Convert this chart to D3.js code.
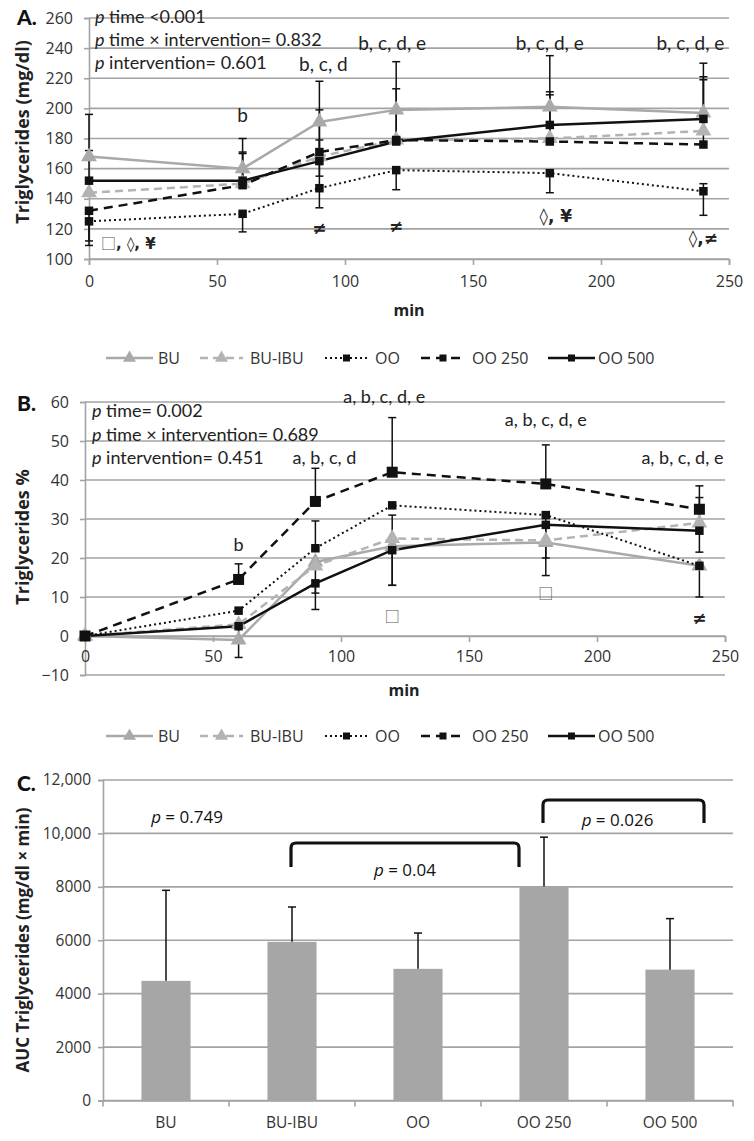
<!DOCTYPE html>
<html><head><meta charset="utf-8">
<script src="https://cdn.jsdelivr.net/npm/d3@7"></script>
<style>
body{margin:0;background:#fff;}
svg{display:block;}
</style></head>
<body><svg id="c" width="754" height="1141"></svg>
<script>
// ---------- DATA ----------
const times = [0, 60, 90, 120, 180, 240];
const seriesNames = ["BU", "BU-IBU", "OO", "OO 250", "OO 500"];
const xTicks = [0, 50, 100, 150, 200, 250];

// Panel A: triglycerides (mg/dl)
const aBU     = [168, 160, 191, 199, 201, 197];
const aBUIBU  = [144, 150, 168, 179, 180, 185];
const aOO     = [125, 130, 147, 159, 157, 145];
const aOO250  = [132, 149, 171, 179, 178, 176];
const aOO500  = [152, 152, 165, 178, 189, 193];
const aErrPlusBU     = [4, 0, 0, 0, 0, 0];
const aErrPlusBUIBU  = [0, 21, 0, 0, 29, 34];
const aErrPlusOO     = [0, 0, 32, 0, 0, 5];
const aErrPlusOO250  = [0, 21, 47, 34, 33, 45];
const aErrPlusOO500  = [44, 28, 34, 53, 46, 37];
const aErrMinusOO    = [13, 12, 13, 13, 13, 16];
const aErrMinusOO250 = [23, 0, 0, 0, 0, 0];
const aErrMinusOO500 = [0, 0, 10, 0, 0, 0];
const aYTicks = [100, 120, 140, 160, 180, 200, 220, 240, 260];
const aStats = ["time <0.001", "time \u00d7 intervention= 0.832", "intervention= 0.601"];
const aLetters = ["b", "b, c, d", "b, c, d, e", "b, c, d, e", "b, c, d, e"];
const aLetterTimes = [60, 90, 120, 180, 240];
const aSymbols = ["\u25a1", ", \u25ca, \u00a5", "\u2260", "\u2260", "\u25ca, \u00a5", "\u25ca,\u2260"];

// Panel B: triglycerides %
const bBU     = [0, -1, 19, 23, 24, 18];
const bBUIBU  = [0, 3, 18, 25, 24.5, 29];
const bOO     = [0, 6.5, 22.5, 33.5, 31, 18];
const bOO250  = [0, 14.5, 34.5, 42, 39, 32.5];
const bOO500  = [0, 2.5, 13.5, 22, 28.5, 27];
const bErrPlusOO     = [0, 0, 7, 0, 0, 0];
const bErrPlusOO250  = [0, 4, 8.5, 14, 10, 6];
const bErrPlusOO500  = [0, 0, 0, 9, 0, 8.5];
const bErrMinusBU    = [0, 0, 0, 10, 0, 0];
const bErrMinusBUIBU = [0, 0, 7, 0, 0, 0];
const bErrMinusOO    = [0, 0, 0, 0, 11, 8];
const bErrMinusOO500 = [0, 8, 6.7, 9, 13, 5.5];
const bYTicks = [-10, 0, 10, 20, 30, 40, 50, 60];
const bStats = ["time= 0.002", "time \u00d7 intervention= 0.689", "intervention= 0.451"];
const bLetters = ["b", "a, b, c, d", "a, b, c, d, e", "a, b, c, d, e", "a, b, c, d, e"];
const bLetterTimes = [60, 90, 120, 180, 240];
const bSymbols = ["\u25a1", "\u25a1", "\u2260"];

// Panel C: AUC
const cCategories = ["BU", "BU-IBU", "OO", "OO 250", "OO 500"];
const cValues = [4480, 5940, 4930, 8010, 4900];
const cErrPlus = [3390, 1305, 1340, 1850, 1910];
const cYTicks = [0, 2000, 4000, 6000, 8000, 10000, 12000];
const cYTickLabels = ["0", "2000", "4000", "6000", "8000", "10,000", "12,000"];
const cBrackets = [
  {from: "BU-IBU", to: "OO 250", p: "0.04"},
  {from: "OO 250", to: "OO 500", p: "0.026"}
];
const cOverallP = "0.749";

// ---------- DRAWING ----------
const svg = d3.select("#c");
const GRID = "#a3a3a3";
const FONT = "Lato, 'Open Sans', sans-serif";
const TITLE = "'Open Sans', sans-serif";
const NARROW = "'Liberation Sans Narrow', 'Open Sans', sans-serif";
const SQFONT = "'Noto Sans CJK SC', 'DejaVu Sans', sans-serif";

const styles = {
  "BU":     {stroke: "#a9a9a9", dash: null,   width: 2.5, marker: "tri",  fill: "#a9a9a9"},
  "BU-IBU": {stroke: "#b3b3b3", dash: "8,5",  width: 2.5, marker: "tri",  fill: "#b3b3b3"},
  "OO":     {stroke: "#111",    dash: "2,3",  width: 2,   marker: "sq",   fill: "#111"},
  "OO 250": {stroke: "#111",    dash: "9,6",  width: 2.5, marker: "sq",   fill: "#111"},
  "OO 500": {stroke: "#111",    dash: null,   width: 2.5, marker: "sq",   fill: "#111"}
};

function drawMarker(g, type, cx, cy, size, fill) {
  if (type === "sq") {
    g.append("rect").attr("x", cx - size/2).attr("y", cy - size/2)
      .attr("width", size).attr("height", size).attr("fill", fill);
  } else {
    const sym = d3.symbol().type(d3.symbolTriangle).size(size*size*0.9);
    g.append("path").attr("d", sym()).attr("transform", `translate(${cx},${cy})`).attr("fill", fill);
  }
}

function linePanel(cfg) {
  const g = svg.append("g");
  const x = d3.scaleLinear().domain([0, 250]).range(cfg.xRange);
  const y = d3.scaleLinear().domain(cfg.yDomain).range(cfg.yRange);
  g.selectAll(null).data(cfg.yTicks).enter().append("line")
    .attr("x1", x(0)).attr("x2", x(250)).attr("y1", d => y(d)).attr("y2", d => y(d))
    .attr("stroke", GRID).attr("stroke-width", 1.6);
  const ya = g.append("g").attr("transform", `translate(${x(0)},0)`)
    .call(d3.axisLeft(y).tickValues(cfg.yTicks).tickSize(5).tickPadding(11));
  ya.select(".domain").attr("stroke", GRID).attr("stroke-width", 1.6);
  ya.selectAll(".tick line").attr("stroke", GRID).attr("stroke-width", 1.6);
  ya.selectAll("text").attr("font-family", NARROW).attr("font-size", 16).attr("fill", "#333");
  const xa = g.append("g").attr("transform", `translate(0,${y(cfg.xAxisAt)})`)
    .call(d3.axisBottom(x).tickValues(xTicks).tickSize(6).tickPadding(cfg.xPad));
  xa.select(".domain").attr("stroke", GRID).attr("stroke-width", 1.6);
  xa.selectAll(".tick line").attr("stroke", GRID).attr("stroke-width", 1.6);
  xa.selectAll("text").attr("font-family", NARROW).attr("font-size", 16).attr("fill", "#333");
  cfg.series.forEach(s => {
    const st = styles[s.name];
    const pts = times.map((t, i) => [x(t), y(s.values[i])]);
    g.append("path").attr("d", d3.line()(pts)).attr("fill", "none")
      .attr("stroke", st.stroke).attr("stroke-width", st.width)
      .attr("stroke-dasharray", st.dash);
  });
  cfg.series.forEach(s => {
    times.forEach((t, i) => {
      const v = s.values[i];
      const p = s.plus ? s.plus[i] : 0, m = s.minus ? s.minus[i] : 0;
      const cx = x(t);
      [[p, 1], [m, -1]].forEach(([e, sgn]) => {
        if (e > 0) {
          g.append("line").attr("x1", cx).attr("x2", cx).attr("y1", y(v)).attr("y2", y(v + sgn * e))
            .attr("stroke", "#111").attr("stroke-width", 1.5);
          g.append("line").attr("x1", cx - 4).attr("x2", cx + 4).attr("y1", y(v + sgn * e)).attr("y2", y(v + sgn * e))
            .attr("stroke", "#111").attr("stroke-width", 1.5);
        }
      });
    });
  });
  cfg.series.forEach(s => {
    const st = styles[s.name];
    times.forEach((t, i) => {
      const size = st.marker === "tri" ? 11 : (cfg.bigSq && s.name === "OO 250" ? 11 : 8.5);
      drawMarker(g, st.marker, x(t), y(s.values[i]), size, st.fill);
    });
  });
  g.append("text").attr("x", 17).attr("y", cfg.labelY).text(cfg.label)
    .attr("font-family", FONT).attr("font-weight", 900).attr("font-size", 21).attr("fill", "#111");
  g.append("text").attr("transform", `translate(${cfg.yTitleX},${cfg.yTitleY}) rotate(-90)`)
    .attr("text-anchor", "middle").text(cfg.yTitle)
    .attr("font-family", TITLE).attr("font-weight", 700).attr("font-size", cfg.yTitleSize).attr("fill", "#222");
  g.append("text").attr("x", cfg.minX).attr("y", cfg.minY).attr("text-anchor", "middle").text("min")
    .attr("font-family", NARROW).attr("font-weight", 700).attr("font-size", 16).attr("fill", "#222");
  cfg.stats.forEach((s, i) => {
    const t = g.append("text").attr("x", cfg.statX).attr("y", cfg.statY[i])
      .attr("font-family", FONT).attr("font-size", 18).attr("fill", "#222");
    t.append("tspan").attr("font-style", "italic").text("p");
    t.append("tspan").text(" " + s);
  });
  cfg.letters.forEach(l => {
    g.append("text").attr("x", x(l.t) + (l.dx || 0)).attr("y", l.y).attr("text-anchor", l.anchor || "middle")
      .text(l.text).attr("font-family", FONT).attr("font-size", cfg.letterSize).attr("fill", "#222");
  });
  return {g, x, y};
}

function legend(yc) {
  const items = [
    {x1: 106, x2: 153, tx: 158},
    {x1: 200, x2: 243, tx: 250},
    {x1: 325, x2: 368, tx: 375},
    {x1: 421, x2: 465, tx: 472},
    {x1: 548, x2: 595, tx: 598}
  ];
  const g = svg.append("g");
  items.forEach((it, i) => {
    const st = styles[seriesNames[i]];
    g.append("line").attr("x1", it.x1).attr("x2", it.x2).attr("y1", yc).attr("y2", yc)
      .attr("stroke", st.stroke).attr("stroke-width", st.width).attr("stroke-dasharray", st.dash);
    drawMarker(g, st.marker, (it.x1 + it.x2) / 2, yc, st.marker === "tri" ? 9 : 7, st.fill);
    g.append("text").attr("x", it.tx).attr("y", yc + 6).text(seriesNames[i])
      .attr("font-family", NARROW).attr("font-size", 16).attr("fill", "#333");
  });
}

function sym(g, x, y, text, opts) {
  opts = opts || {};
  return g.append("text").attr("x", x).attr("y", y).attr("text-anchor", opts.anchor || "middle")
    .text(text).attr("font-family", opts.font || "'DejaVu Sans', sans-serif")
    .attr("font-weight", opts.bold ? 700 : 400).attr("font-size", opts.size || 16)
    .attr("fill", opts.fill || "#222");
}

// Panel A
const A = linePanel({
  xRange: [89, 729], yDomain: [100, 260], yRange: [259, 18], yTicks: aYTicks, xAxisAt: 100, xPad: 11,
  series: [
    {name: "BU", values: aBU, plus: aErrPlusBU},
    {name: "BU-IBU", values: aBUIBU, plus: aErrPlusBUIBU},
    {name: "OO", values: aOO, plus: aErrPlusOO, minus: aErrMinusOO},
    {name: "OO 250", values: aOO250, plus: aErrPlusOO250, minus: aErrMinusOO250},
    {name: "OO 500", values: aOO500, plus: aErrPlusOO500, minus: aErrMinusOO500}
  ],
  label: "A.", labelY: 25, yTitle: "Triglycerides (mg/dl)", yTitleX: 29, yTitleY: 132, yTitleSize: 18,
  minX: 409, minY: 316,
  stats: aStats, statX: 95, statY: [23, 46, 69], letterSize: 19,
  letters: [
    {t: aLetterTimes[0], text: aLetters[0], y: 122},
    {t: aLetterTimes[1], text: aLetters[1], y: 71, dx: 4},
    {t: aLetterTimes[2], text: aLetters[2], y: 50, dx: -4},
    {t: aLetterTimes[3], text: aLetters[3], y: 50},
    {t: aLetterTimes[4], text: aLetters[4], y: 50, anchor: "end", dx: 21}
  ]
});
(function () {
  const g = A.g, x = A.x;
  const t = g.append("text").attr("x", 101).attr("y", 249).attr("font-family", "'DejaVu Sans', sans-serif")
    .attr("font-weight", 700).attr("font-size", 15).attr("fill", "#222");
  t.append("tspan").attr("font-family", SQFONT).attr("font-weight", 400).attr("fill", "#555").text(aSymbols[0]);
  t.append("tspan").text(aSymbols[1]);
  sym(g, x(90), 234, aSymbols[2], {bold: true, size: 17});
  sym(g, x(120), 232, aSymbols[3], {bold: true, size: 17});
  sym(g, x(180) + 6, 222, aSymbols[4], {bold: true, size: 17});
  sym(g, x(240), 244, aSymbols[5], {bold: true, size: 17});
})();
legend(358);

// Panel B
const B = linePanel({
  xRange: [85, 725], yDomain: [-10, 60], yRange: [675, 402], yTicks: bYTicks, xAxisAt: 0, xPad: 9, bigSq: true,
  series: [
    {name: "BU", values: bBU, minus: bErrMinusBU},
    {name: "BU-IBU", values: bBUIBU, minus: bErrMinusBUIBU},
    {name: "OO", values: bOO, plus: bErrPlusOO, minus: bErrMinusOO},
    {name: "OO 250", values: bOO250, plus: bErrPlusOO250},
    {name: "OO 500", values: bOO500, plus: bErrPlusOO500, minus: bErrMinusOO500}
  ],
  label: "B.", labelY: 411, yTitle: "Triglycerides %", yTitleX: 29, yTitleY: 537, yTitleSize: 18,
  minX: 404, minY: 696,
  stats: bStats, statX: 92, statY: [417, 441, 464], letterSize: 18,
  letters: [
    {t: bLetterTimes[0], text: bLetters[0], y: 551},
    {t: bLetterTimes[1], text: bLetters[1], y: 464, dx: 9},
    {t: bLetterTimes[2], text: bLetters[2], y: 403, dx: -8},
    {t: bLetterTimes[3], text: bLetters[3], y: 426},
    {t: bLetterTimes[4], text: bLetters[4], y: 464, anchor: "end", dx: 24}
  ]
});
sym(B.g, B.x(120), 622, bSymbols[0], {font: SQFONT, size: 15, fill: "#555"});
sym(B.g, B.x(180), 599, bSymbols[1], {font: SQFONT, size: 15, fill: "#555"});
sym(B.g, B.x(240), 624, bSymbols[2], {bold: true, size: 17});
legend(736);

// Panel C
(function () {
  const g = svg.append("g");
  const x = d3.scaleBand().domain(cCategories).range([103, 733]).paddingInner(0.61).paddingOuter(0.305);
  const y = d3.scaleLinear().domain([0, 12000]).range([1100.5, 780]);
  g.selectAll(null).data(cYTicks).enter().append("line")
    .attr("x1", 103).attr("x2", 733).attr("y1", d => y(d)).attr("y2", d => y(d))
    .attr("stroke", GRID).attr("stroke-width", 1.6);
  const ya = g.append("g").attr("transform", "translate(103,0)")
    .call(d3.axisLeft(y).tickValues(cYTicks).tickFormat((d, i) => cYTickLabels[i]).tickSize(5).tickPadding(7));
  ya.select(".domain").attr("stroke", GRID).attr("stroke-width", 1.6);
  ya.selectAll(".tick line").attr("stroke", GRID).attr("stroke-width", 1.6);
  ya.selectAll("text").attr("font-family", NARROW).attr("font-size", 15.5).attr("fill", "#333");
  const xa = g.append("g").attr("transform", `translate(0,${y(0)})`)
    .call(d3.axisBottom(x).tickSize(0).tickPadding(16));
  xa.select(".domain").attr("stroke", GRID).attr("stroke-width", 1.6);
  xa.selectAll("text").attr("font-family", NARROW).attr("font-size", 15.5).attr("fill", "#333");
  const bounds = d3.range(cCategories.length + 1).map(i => 103 + i * x.step());
  g.selectAll(null).data(bounds).enter().append("line")
    .attr("x1", d => d).attr("x2", d => d).attr("y1", y(0)).attr("y2", y(0) + 6)
    .attr("stroke", GRID).attr("stroke-width", 1.6);
  g.selectAll(null).data(cValues).enter().append("rect")
    .attr("x", (d, i) => x(cCategories[i])).attr("width", x.bandwidth())
    .attr("y", d => y(d)).attr("height", d => y(0) - y(d)).attr("fill", "#a6a6a6");
  cValues.forEach((v, i) => {
    const cx = x(cCategories[i]) + x.bandwidth() / 2;
    g.append("line").attr("x1", cx).attr("x2", cx).attr("y1", y(v)).attr("y2", y(v + cErrPlus[i]))
      .attr("stroke", "#111").attr("stroke-width", 1.5);
    g.append("line").attr("x1", cx - 4).attr("x2", cx + 4).attr("y1", y(v + cErrPlus[i])).attr("y2", y(v + cErrPlus[i]))
      .attr("stroke", "#111").attr("stroke-width", 1.5);
  });
  const br = [
    {x1: 291, x2: 519, top: 843, bot: 867, ty: 876, dx: 0},
    {x1: 543, x2: 704, top: 800, bot: 823, ty: 826, dx: -6}
  ];
  cBrackets.forEach((b, i) => {
    const p = br[i], r = 5;
    g.append("path").attr("d",
      `M${p.x1},${p.bot} L${p.x1},${p.top + r} Q${p.x1},${p.top} ${p.x1 + r},${p.top} L${p.x2 - r},${p.top} Q${p.x2},${p.top} ${p.x2},${p.top + r} L${p.x2},${p.bot}`)
      .attr("fill", "none").attr("stroke", "#111").attr("stroke-width", 3.2);
    const t = g.append("text").attr("x", (p.x1 + p.x2) / 2 + p.dx).attr("y", p.ty)
      .attr("text-anchor", "middle").attr("font-family", NARROW).attr("font-size", 17).attr("fill", "#111");
    t.append("tspan").attr("font-style", "italic").text("p");
    t.append("tspan").text(" = " + b.p);
  });
  const t0 = g.append("text").attr("x", 187).attr("y", 823).attr("text-anchor", "middle")
    .attr("font-family", NARROW).attr("font-size", 17).attr("fill", "#111");
  t0.append("tspan").attr("font-style", "italic").text("p");
  t0.append("tspan").text(" = " + cOverallP);
  g.append("text").attr("x", 17).attr("y", 791).text("C.")
    .attr("font-family", FONT).attr("font-weight", 900).attr("font-size", 21).attr("fill", "#111");
  g.append("text").attr("transform", "translate(29,940) rotate(-90)").attr("text-anchor", "middle")
    .text("AUC Triglycerides (mg/dl \u00d7 min)")
    .attr("font-family", TITLE).attr("font-weight", 700).attr("font-size", 17).attr("fill", "#222");
})();
</script></body></html>
